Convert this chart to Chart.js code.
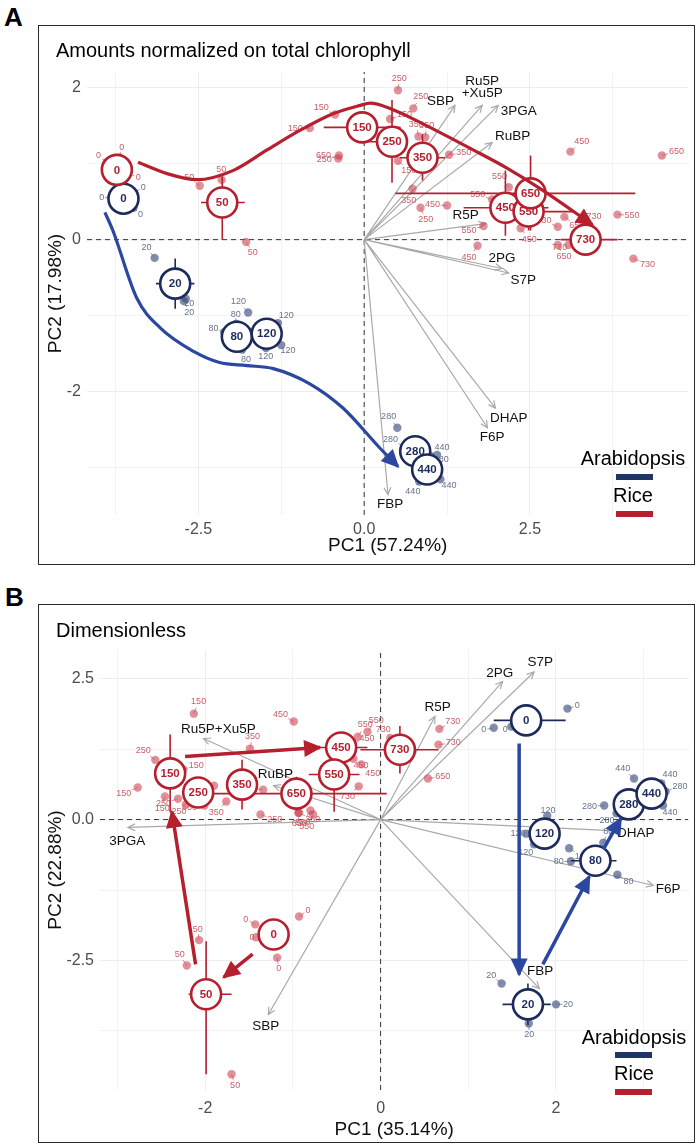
<!DOCTYPE html>
<html>
<head>
<meta charset="utf-8">
<title>PCA trajectories</title>
<script src="https://cdn.jsdelivr.net/npm/chart.js@4.4.1/dist/chart.umd.min.js"></script>
<style>
html,body{margin:0;padding:0;background:#fff;}
body{width:700px;height:1148px;position:relative;overflow:hidden;font-family:"Liberation Sans",Arial,sans-serif;color:#000;}
.frame{position:absolute;border:1.5px solid #2b2b2b;box-sizing:border-box;pointer-events:none;}
.t{position:absolute;line-height:1;white-space:nowrap;}
.bar{position:absolute;height:6px;width:37px;}
canvas{position:absolute;}
</style>
</head>
<body>
<div class="t" style="left:4px;top:4px;font-size:26px;font-weight:bold;">A</div>
<canvas id="chartA" width="668" height="540" style="left:38px;top:25px;"></canvas>
<div class="frame" style="left:38px;top:25px;width:657px;height:540px;"></div>
<div class="t" style="left:56px;top:40px;font-size:20px;">Amounts normalized on total chlorophyll</div>
<div class="t" style="left:573px;top:448px;width:120px;text-align:center;font-size:20px;">Arabidopsis</div>
<div class="bar" style="left:616px;top:474px;background:#1f3566;"></div>
<div class="t" style="left:573px;top:485px;width:120px;text-align:center;font-size:20px;">Rice</div>
<div class="bar" style="left:616px;top:511px;background:#b51f2e;"></div>

<div class="t" style="left:5px;top:584px;font-size:26px;font-weight:bold;">B</div>
<canvas id="chartB" width="668" height="539" style="left:38px;top:604px;"></canvas>
<div class="frame" style="left:38px;top:604px;width:657px;height:539px;"></div>
<div class="t" style="left:56px;top:620px;font-size:20px;">Dimensionless</div>
<div class="t" style="left:574px;top:1027px;width:120px;text-align:center;font-size:20px;">Arabidopsis</div>
<div class="bar" style="left:615px;top:1052px;background:#1f3566;"></div>
<div class="t" style="left:574px;top:1063px;width:120px;text-align:center;font-size:20px;">Rice</div>
<div class="bar" style="left:615px;top:1089px;background:#b51f2e;"></div>

<script>
// ===================== PANEL A DATA =====================
const A_xTicks = [-2.5, 0, 2.5];
const A_xTickText = ['-2.5', '0.0', '2.5'];
const A_yTicks = [2, 0, -2];
const A_yTickText = ['2', '0', '-2'];

const A_riceDays    = [0, 50, 150, 250, 350, 450, 550, 650, 730];
const A_riceMeanPC1 = [-3.73, -2.14, -0.03, 0.42, 0.88, 2.13, 2.48, 2.51, 3.34];
const A_riceMeanPC2 = [0.92, 0.49, 1.48, 1.29, 1.08, 0.42, 0.37, 0.61, 0.00];
const A_riceLoPC1   = [-3.83, -2.46, -0.61, 0.05, 0.54, 1.50, 1.90, 0.47, 2.96];
const A_riceHiPC1   = [-3.63, -1.80, 0.55, 0.66, 1.22, 2.78, 3.16, 4.09, 3.82];
const A_riceLoPC2   = [0.82, 0.00, 1.30, 0.75, 0.78, 0.05, 0.12, 0.12, -0.10];
const A_riceHiPC2   = [1.02, 0.83, 1.66, 1.84, 1.39, 0.91, 0.62, 1.11, 0.10];

const A_araDays    = [0, 20, 80, 120, 280, 440];
const A_araMeanPC1 = [-3.63, -2.85, -1.92, -1.47, 0.77, 0.95];
const A_araMeanPC2 = [0.54, -0.58, -1.28, -1.24, -2.79, -3.03];
const A_araLoPC1   = [-3.73, -3.14, -2.02, -1.57, 0.67, 0.85];
const A_araHiPC1   = [-3.53, -2.56, -1.82, -1.37, 0.87, 1.05];
const A_araLoPC2   = [0.44, -0.91, -1.38, -1.34, -2.89, -3.13];
const A_araHiPC2   = [0.64, -0.25, -1.18, -1.14, -2.69, -2.93];

const A_riceRepDay = [0,0,0, 50,50,50, 150,150,150,150, 250,250,250,250, 350,350,350,350, 450,450,450,450, 550,550,550,550, 650,650,650,650, 730,730,730,730];
const A_riceRepPC1 = [-3.88,-3.69,-3.56, -2.48,-2.15,-1.78, -0.44,-0.82,0.39,0.51, -0.38,0.51,0.74,0.85, 0.82,0.92,1.28,0.73, 1.25,3.11,1.71,2.36, 1.80,2.18,1.93,3.82, 4.49,2.92,3.02,-0.39, 2.92,3.08,4.06,3.41];
const A_riceRepPC2 = [1.02,1.08,0.87, 0.71,0.79,-0.03, 1.65,1.47,1.59,1.04, 1.11,1.97,1.73,0.42, 1.36,1.35,1.12,0.67, 0.45,1.16,-0.08,0.15, 0.18,0.69,0.53,0.33, 1.11,-0.07,0.30,1.07, 0.17,-0.07,-0.25,0.17];

const A_araRepDay = [0,0,0, 20,20,20, 80,80,80, 120,120,120,120, 280,280,280, 440,440,440];
const A_araRepPC1 = [-3.81,-3.47,-3.48, -3.16,-2.69,-2.72, -1.93,-2.11,-1.84, -1.75,-1.30,-1.25,-1.48, 0.50,0.62,1.00, 1.10,1.15,0.83];
const A_araRepPC2 = [0.55,0.62,0.42, -0.24,-0.78,-0.81, -1.11,-1.22,-1.45, -0.96,-1.10,-1.39,-1.43, -2.48,-2.73,-2.85, -2.84,-3.16,-3.19];

const A_loadNames  = ['SBP', 'Ru5P\n+Xu5P', '3PGA', 'RuBP', 'R5P', '2PG', 'S7P', 'DHAP', 'F6P', 'FBP'];
const A_loadPC1    = [1.37, 1.78, 2.02, 1.93, 1.83, 2.08, 2.18, 1.98, 1.86, 0.36];
const A_loadPC2    = [1.77, 1.77, 1.77, 1.28, 0.21, -0.38, -0.44, -2.22, -2.48, -3.36];
const A_loadLabPC1 = [1.15, 1.78, 2.33, 2.24, 1.53, 2.08, 2.40, 2.18, 1.93, 0.39];
const A_loadLabPC2 = [1.82, 2.01, 1.69, 1.36, 0.32, -0.24, -0.53, -2.35, -2.60, -3.49];

const A_riceCurvePC1 = [-3.41, -2.97, -2.52, -1.98, -1.47, -0.97, -0.47, -0.06, 0.09, 0.39, 0.88, 1.65, 2.16, 2.66, 3.44];
const A_riceCurvePC2 = [1.02, 0.87, 0.79, 0.91, 1.18, 1.44, 1.66, 1.77, 1.80, 1.73, 1.53, 1.18, 0.94, 0.67, 0.20];
const A_araCurvePC1  = [-3.91, -3.79, -3.43, -3.08, -2.58, -2.18, -1.77, -1.37, -0.82, -0.32, 0.24, 0.51];
const A_araCurvePC2  = [0.36, 0.12, -0.77, -1.16, -1.47, -1.62, -1.66, -1.70, -1.90, -2.22, -2.75, -2.99];

// ===================== PANEL B DATA =====================
const B_xTicks = [-2, 0, 2];
const B_xTickText = ['-2', '0', '2'];
const B_yTicks = [2.5, 0, -2.5];
const B_yTickText = ['2.5', '0.0', '-2.5'];

const B_riceDays    = [0, 50, 150, 250, 350, 450, 550, 650, 730];
const B_riceMeanPC1 = [-1.22, -1.99, -2.40, -2.08, -1.58, -0.45, -0.53, -0.96, 0.22];
const B_riceMeanPC2 = [-2.04, -3.10, 0.82, 0.48, 0.62, 1.28, 0.80, 0.46, 1.24];
const B_riceLoPC1   = [-1.27, -2.19, -2.57, -2.23, -1.75, -0.75, -0.82, -1.99, -0.23];
const B_riceHiPC1   = [-1.17, -1.70, -2.23, -1.93, -1.41, -0.15, -0.24, 0.07, 0.66];
const B_riceLoPC2   = [-2.09, -4.52, 0.13, 0.28, 0.18, 1.18, 0.14, 0.16, 0.82];
const B_riceHiPC2   = [-1.99, -2.16, 1.51, 0.68, 1.06, 1.38, 1.08, 0.76, 1.66];

const B_araDays    = [0, 20, 80, 120, 280, 440];
const B_araMeanPC1 = [1.66, 1.68, 2.45, 1.87, 2.83, 3.09];
const B_araMeanPC2 = [1.76, -3.28, -0.73, -0.25, 0.27, 0.46];
const B_araLoPC1   = [1.29, 1.39, 2.17, 1.77, 2.73, 2.99];
const B_araHiPC1   = [2.11, 1.94, 2.69, 1.97, 2.93, 3.19];
const B_araLoPC2   = [1.66, -3.65, -0.83, -0.35, 0.17, 0.36];
const B_araHiPC2   = [1.86, -2.91, -0.63, -0.15, 0.37, 0.56];

const B_riceRepDay = [0,0,0,0, 50,50,50, 150,150,150,150, 250,250,250,250, 350,350,350,350, 450,450,450,450, 550,550,550,550, 650,650,650,650, 730,730,730,730];
const B_riceRepPC1 = [-1.43,-1.42,-0.93,-1.18, -2.07,-2.21,-1.70, -2.13,-2.77,-2.46,-2.25, -2.57,-2.31,-2.22,-1.37, -1.49,-1.90,-1.76,-0.93, -0.99,-0.31,-0.22,-0.32, -0.26,-0.15,-0.77,-0.80, -1.34,-2.01,-0.94,0.54, 0.67,0.66,0.11,-0.25];
const B_riceRepPC2 = [-1.86,-2.09,-1.72,-2.45, -2.14,-2.59,-4.52, 1.88,0.57,0.41,0.89, 1.06,0.37,0.27,0.09, 1.26,0.60,0.32,0.12, 1.74,1.08,0.98,1.35, 1.47,1.56,0.09,0.16, 0.53,0.25,0.12,0.73, 1.61,1.33,1.45,0.59];

const B_araRepDay = [0,0,0, 20,20,20, 80,80,80, 120,120,120,120, 280,280,280, 440,440,440];
const B_araRepPC1 = [2.13,1.29,1.49, 1.38,2.00,1.69, 2.54,2.17,2.70, 1.90,1.66,1.75,2.15, 2.55,2.69,3.25, 2.89,3.22,3.20];
const B_araRepPC2 = [1.97,1.63,1.65, -2.91,-3.28,-3.62, -0.41,-0.74,-0.98, 0.07,-0.25,-0.44,-0.51, 0.25,0.11,0.50, 0.73,0.25,0.64];

const B_loadNames  = ['Ru5P+Xu5P', 'RuBP', '3PGA', 'SBP', 'R5P', '2PG', 'S7P', 'DHAP', 'F6P', 'FBP'];
const B_loadPC1    = [-2.02, -1.22, -2.88, -1.28, 0.62, 1.39, 1.75, 2.69, 3.11, 1.81];
const B_loadPC2    = [1.44, 0.60, -0.14, -3.46, 1.83, 2.45, 2.62, -0.20, -1.17, -3.00];
const B_loadLabPC1 = [-1.85, -1.20, -2.89, -1.31, 0.65, 1.36, 1.82, 2.91, 3.28, 1.82];
const B_loadLabPC2 = [1.61, 0.80, -0.39, -3.67, 1.99, 2.59, 2.80, -0.25, -1.24, -2.70];

const B_riceArrowFromPC1 = [-1.46, -2.11, -2.23];
const B_riceArrowFromPC2 = [-2.39, -2.57, 1.12];
const B_riceArrowToPC1   = [-1.79, -2.38, -0.69];
const B_riceArrowToPC2   = [-2.80, 0.14, 1.28];
const B_araArrowFromPC1  = [1.58, 1.85, 2.54];
const B_araArrowFromPC2  = [1.35, -2.57, -0.53];
const B_araArrowToPC1    = [1.58, 2.38, 2.74];
const B_araArrowToPC2    = [-2.75, -1.01, 0.02];

// ===================== DRAWING =====================
const FONT = '"Liberation Sans", Arial, sans-serif';
const RED = '#b51f2e', NAVY = '#1c2b5c', BLUE = '#2b47a0';

function pts(xs, ys) { return xs.map((x, i) => ({x, y: ys[i]})); }
function segs(x0, y0, x1, y1) {
  const d = [];
  x0.forEach((x, i) => { d.push({x, y: y0[i]}, {x: x1[i], y: y1[i]}, {x: NaN, y: NaN}); });
  return d;
}
function errSegs(mx, my, lx, hx, ly, hy) {
  const d = [];
  mx.forEach((x, i) => {
    d.push({x: lx[i], y: my[i]}, {x: hx[i], y: my[i]}, {x: NaN, y: NaN},
           {x, y: ly[i]}, {x, y: hy[i]}, {x: NaN, y: NaN});
  });
  return d;
}
function rays(xs, ys) {
  const d = [];
  xs.forEach((x, i) => { d.push({x: 0, y: 0}, {x, y: ys[i]}, {x: NaN, y: NaN}); });
  return d;
}
function valid(p) { return p && !isNaN(p.x) && !isNaN(p.y); }

const overlay = {
  id: 'overlay',
  afterDatasetDraw(chart, args) {
    const ds = chart.data.datasets[args.index];
    const ctx = chart.ctx;
    const X = v => chart.scales.x.getPixelForValue(v);
    const Y = v => chart.scales.y.getPixelForValue(v);
    ctx.save();
    if (ds.role === 'load') {
      ctx.strokeStyle = '#a9a9a9'; ctx.lineWidth = 1.2;
      ds.tipX.forEach((tx, i) => {
        const x1 = X(tx), y1 = Y(ds.tipY[i]), x0 = X(0), y0 = Y(0);
        const d = Math.hypot(x1 - x0, y1 - y0), ux = (x1 - x0) / d, uy = (y1 - y0) / d;
        const L = 7, W = 3.4;
        ctx.beginPath();
        ctx.moveTo(x1 - ux * L - uy * W, y1 - uy * L + ux * W);
        ctx.lineTo(x1, y1);
        ctx.lineTo(x1 - ux * L + uy * W, y1 - uy * L - ux * W);
        ctx.stroke();
      });
      ctx.fillStyle = '#111'; ctx.font = '13.5px ' + FONT;
      ctx.textAlign = 'center'; ctx.textBaseline = 'middle';
      ds.names.forEach((n, i) => {
        const lines = n.split('\n');
        const cx = X(ds.labX[i]), cy = Y(ds.labY[i]);
        lines.forEach((ln, k) => ctx.fillText(ln, cx, cy + (k - (lines.length - 1) / 2) * 12.5));
      });
    } else if (ds.role === 'reps') {
      const R = 16;
      ctx.font = '9px ' + FONT; ctx.textAlign = 'center'; ctx.textBaseline = 'middle';
      ds.data.forEach((p, i) => {
        const day = ds.days[i];
        const k = ds.meanDays.indexOf(day);
        const mx = X(ds.meanX[k]), my = Y(ds.meanY[k]);
        const px = X(p.x), py = Y(p.y);
        let dx = px - mx, dy = py - my, d = Math.hypot(dx, dy);
        if (d < 0.5) { dx = 1; dy = 0; d = 1; }
        const ux = dx / d, uy = dy / d;
        const txt = String(day);
        const w = ctx.measureText(txt).width, h = 7;
        const ext = Math.abs(ux) * w / 2 + Math.abs(uy) * h / 2;
        const dist = d < R + 3 ? (R + 3 + ext) - d : 7 + ext;
        const lx = px + ux * dist, ly = py + uy * dist;
        ctx.strokeStyle = ds.labelColor; ctx.lineWidth = 0.7;
        ctx.beginPath(); ctx.moveTo(px, py);
        ctx.lineTo(px + ux * (dist - ext - 0.5), py + uy * (dist - ext - 0.5)); ctx.stroke();
        ctx.fillStyle = ds.labelColor;
        ctx.fillText(txt, lx, ly);
      });
    } else if (ds.role === 'means') {
      ctx.font = 'bold 11.5px ' + FONT; ctx.textAlign = 'center'; ctx.textBaseline = 'middle';
      ctx.fillStyle = ds.textColor;
      ds.data.forEach((p, i) => ctx.fillText(String(ds.days[i]), X(p.x), Y(p.y) + 0.5));
    } else if (ds.role === 'traj') {
      const data = ds.data;
      ctx.fillStyle = ds.borderColor;
      for (let i = 1; i < data.length; i++) {
        if (valid(data[i]) && valid(data[i - 1]) && (i === data.length - 1 || !valid(data[i + 1]))) {
          const x0 = X(data[i - 1].x), y0 = Y(data[i - 1].y), x1 = X(data[i].x), y1 = Y(data[i].y);
          const d = Math.hypot(x1 - x0, y1 - y0), ux = (x1 - x0) / d, uy = (y1 - y0) / d;
          const [L, W] = ds.head;
          const tx = x1 + ux * 2, ty = y1 + uy * 2, bx = tx - ux * L, by = ty - uy * L;
          ctx.beginPath();
          ctx.moveTo(tx, ty);
          ctx.lineTo(bx - uy * W / 2, by + ux * W / 2);
          ctx.lineTo(bx + uy * W / 2, by - ux * W / 2);
          ctx.closePath(); ctx.fill();
        }
      }
    }
    ctx.restore();
  }
};

function tickFmt(vals, labels) {
  return v => { const k = vals.findIndex(t => Math.abs(t - v) < 1e-6); return k < 0 ? '' : labels[k]; };
}

function buildPanel(id, P) {
  const datasets = [
    {role: 'zero', data: [{x: P.xmin, y: 0}, {x: P.xmax, y: 0}], showLine: true, borderColor: '#333', borderWidth: 1, borderDash: [5, 4], pointRadius: 0, order: 12},
    {role: 'zero', data: [{x: 0, y: P.ymin}, {x: 0, y: P.ymax}], showLine: true, borderColor: '#333', borderWidth: 1, borderDash: [5, 4], pointRadius: 0, order: 12},
    {role: 'load', data: rays(P.loadX, P.loadY), tipX: P.loadX, tipY: P.loadY, names: P.loadNames, labX: P.loadLabX, labY: P.loadLabY,
     showLine: true, spanGaps: false, borderColor: '#a9a9a9', borderWidth: 1.2, pointRadius: 0, order: 11},
    {role: 'reps', data: pts(P.riceRepX, P.riceRepY), days: P.riceRepDay, meanDays: P.riceDays, meanX: P.riceMeanX, meanY: P.riceMeanY,
     labelColor: '#c8606b', pointRadius: 4.2, pointBackgroundColor: 'rgba(201,52,70,0.55)', pointBorderWidth: 0, order: 10},
    {role: 'reps', data: pts(P.araRepX, P.araRepY), days: P.araRepDay, meanDays: P.araDays, meanX: P.araMeanX, meanY: P.araMeanY,
     labelColor: '#67728f', pointRadius: 4.2, pointBackgroundColor: 'rgba(45,65,115,0.6)', pointBorderWidth: 0, order: 10},
    {role: 'err', data: errSegs(P.riceMeanX, P.riceMeanY, P.riceLoX, P.riceHiX, P.riceLoY, P.riceHiY), showLine: true, spanGaps: false,
     borderColor: RED, borderWidth: 1.6, pointRadius: 0, order: 9},
    {role: 'err', data: errSegs(P.araMeanX, P.araMeanY, P.araLoX, P.araHiX, P.araLoY, P.araHiY), showLine: true, spanGaps: false,
     borderColor: NAVY, borderWidth: 1.6, pointRadius: 0, order: 9},
    {role: 'means', data: pts(P.riceMeanX, P.riceMeanY), days: P.riceDays, textColor: RED,
     pointRadius: 15, pointBackgroundColor: '#fff', pointBorderColor: RED, pointBorderWidth: 2.6, order: 8},
    {role: 'means', data: pts(P.araMeanX, P.araMeanY), days: P.araDays, textColor: NAVY,
     pointRadius: 15, pointBackgroundColor: '#fff', pointBorderColor: NAVY, pointBorderWidth: 2.6, order: 8},
  ];
  P.traj.forEach(t => datasets.push(Object.assign({role: 'traj', showLine: true, spanGaps: false, pointRadius: 0, order: 6, borderCapStyle: 'butt'}, t)));

  return new Chart(document.getElementById(id), {
    type: 'scatter',
    data: {datasets},
    options: {
      responsive: false, animation: false, events: [],
      layout: {padding: {left: 0, right: P.padRight, top: P.padTop, bottom: 0}},
      plugins: {legend: {display: false}, tooltip: {enabled: false}, title: {display: false}},
      scales: {
        x: {
          type: 'linear', min: P.xmin, max: P.xmax,
          afterFit: s => { s.height = P.xAxisH; },
          ticks: {stepSize: P.xStep, includeBounds: false, autoSkip: false, maxRotation: 0, padding: P.xTickPad,
                  color: '#4d4d4d', font: {size: 16, family: FONT}, callback: tickFmt(P.xTicks, P.xTickText)},
          grid: {color: '#ededed', lineWidth: c => (P.xTicks.some(t => Math.abs(t - c.tick.value) < 1e-6) ? 1 : 0.7), drawTicks: false},
          border: {display: false},
          title: {display: true, text: P.xTitle, color: '#111', font: {size: 19, family: FONT}, padding: {top: 0, bottom: P.xTitlePad}}
        },
        y: {
          type: 'linear', min: P.ymin, max: P.ymax,
          afterFit: s => { s.width = P.yAxisW; },
          ticks: {stepSize: P.yStep, includeBounds: false, autoSkip: false, padding: P.yTickPad,
                  color: '#4d4d4d', font: {size: 16, family: FONT}, callback: tickFmt(P.yTicks, P.yTickText)},
          grid: {color: '#ededed', lineWidth: c => (P.yTicks.some(t => Math.abs(t - c.tick.value) < 1e-6) ? 1 : 0.7), drawTicks: false},
          border: {display: false},
          title: {display: true, text: P.yTitle, color: '#111', font: {size: 19, family: FONT}, padding: {top: 6.6, bottom: 0}}
        }
      }
    },
    plugins: [overlay]
  });
}

buildPanel('chartA', {
  xmin: -4.18, xmax: 4.89, ymin: -3.63, ymax: 2.21, xStep: 1.25, yStep: 1,
  xTicks: A_xTicks, xTickText: A_xTickText, yTicks: A_yTicks, yTickText: A_yTickText,
  padTop: 47, padRight: 7, yAxisW: 49, xAxisH: 50, xTickPad: 5, yTickPad: 6, xTitlePad: 8,
  xTitle: 'PC1 (57.24%)', yTitle: 'PC2 (17.98%)',
  riceDays: A_riceDays, riceMeanX: A_riceMeanPC1, riceMeanY: A_riceMeanPC2,
  riceLoX: A_riceLoPC1, riceHiX: A_riceHiPC1, riceLoY: A_riceLoPC2, riceHiY: A_riceHiPC2,
  araDays: A_araDays, araMeanX: A_araMeanPC1, araMeanY: A_araMeanPC2,
  araLoX: A_araLoPC1, araHiX: A_araHiPC1, araLoY: A_araLoPC2, araHiY: A_araHiPC2,
  riceRepDay: A_riceRepDay, riceRepX: A_riceRepPC1, riceRepY: A_riceRepPC2,
  araRepDay: A_araRepDay, araRepX: A_araRepPC1, araRepY: A_araRepPC2,
  loadNames: A_loadNames, loadX: A_loadPC1, loadY: A_loadPC2, loadLabX: A_loadLabPC1, loadLabY: A_loadLabPC2,
  traj: [
    {data: pts(A_riceCurvePC1, A_riceCurvePC2), cubicInterpolationMode: 'monotone', borderColor: RED, borderWidth: 3.2, head: [18, 17]},
    {data: pts(A_araCurvePC1, A_araCurvePC2), cubicInterpolationMode: 'monotone', borderColor: BLUE, borderWidth: 3.2, head: [18, 17]}
  ]
});

buildPanel('chartB', {
  xmin: -3.2, xmax: 3.51, ymin: -4.80, ymax: 3.01, xStep: 1, yStep: 1.25,
  xTicks: B_xTicks, xTickText: B_xTickText, yTicks: B_yTicks, yTickText: B_yTickText,
  padTop: 46, padRight: 9, yAxisW: 62, xAxisH: 53, xTickPad: 9, yTickPad: 6, xTitlePad: 2,
  xTitle: 'PC1 (35.14%)', yTitle: 'PC2 (22.88%)',
  riceDays: B_riceDays, riceMeanX: B_riceMeanPC1, riceMeanY: B_riceMeanPC2,
  riceLoX: B_riceLoPC1, riceHiX: B_riceHiPC1, riceLoY: B_riceLoPC2, riceHiY: B_riceHiPC2,
  araDays: B_araDays, araMeanX: B_araMeanPC1, araMeanY: B_araMeanPC2,
  araLoX: B_araLoPC1, araHiX: B_araHiPC1, araLoY: B_araLoPC2, araHiY: B_araHiPC2,
  riceRepDay: B_riceRepDay, riceRepX: B_riceRepPC1, riceRepY: B_riceRepPC2,
  araRepDay: B_araRepDay, araRepX: B_araRepPC1, araRepY: B_araRepPC2,
  loadNames: B_loadNames, loadX: B_loadPC1, loadY: B_loadPC2, loadLabX: B_loadLabPC1, loadLabY: B_loadLabPC2,
  traj: [
    {data: segs(B_riceArrowFromPC1, B_riceArrowFromPC2, B_riceArrowToPC1, B_riceArrowToPC2), borderColor: RED, borderWidth: 3.5, head: [18, 17]},
    {data: segs(B_araArrowFromPC1, B_araArrowFromPC2, B_araArrowToPC1, B_araArrowToPC2), borderColor: BLUE, borderWidth: 3.5, head: [18, 17]}
  ]
});
</script>
</body>
</html>
